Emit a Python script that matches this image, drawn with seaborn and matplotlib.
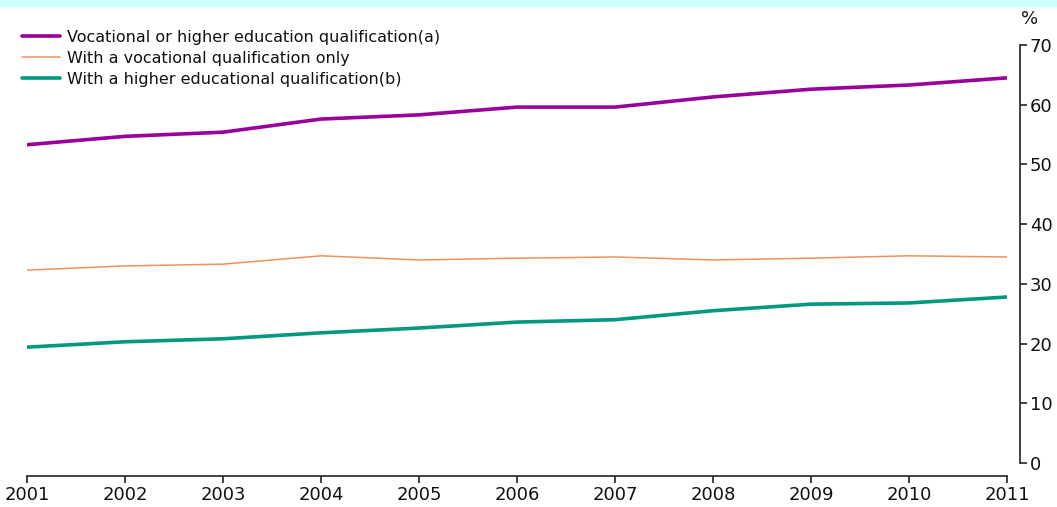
"""
plot.py - education qualification trend, 2001-2011
"""
import numpy as np
import pandas as pd
import matplotlib
matplotlib.use('Agg')
import matplotlib.pyplot as plt
import matplotlib.patches as mpatches
import seaborn as sns

# ── DATA ──────────────────────────────────────────────────────
YEARS = [2001, 2002, 2003, 2004, 2005, 2006, 2007, 2008, 2009, 2010, 2011]
SERIES = [
    "Vocational or higher education qualification(a)",
    "With a vocational qualification only",
    "With a higher educational qualification(b)",
]
voc_or_higher = [53.3, 54.7, 55.4, 57.6, 58.3, 59.6, 59.6, 61.3, 62.6, 63.3, 64.5]
voc_only = [32.3, 33.0, 33.3, 34.7, 34.0, 34.3, 34.5, 34.0, 34.3, 34.7, 34.5]
higher_only = [19.4, 20.3, 20.8, 21.8, 22.6, 23.6, 24.0, 25.5, 26.6, 26.8, 27.8]
Y_TICKS = [0, 10, 20, 30, 40, 50, 60, 70]

COLORS = ["#990099", "#F4905A", "#00997F"]
WIDTHS = [2.6, 1.1, 2.6]

df = pd.DataFrame({
    "Year": YEARS * 3,
    "Value": voc_or_higher + voc_only + higher_only,
    "Series": [SERIES[0]] * 11 + [SERIES[1]] * 11 + [SERIES[2]] * 11,
})

sns.set_style("white")
plt.rcParams['font.family'] = ['DejaVu Sans']

fig = plt.figure(figsize=(10.57, 5.07), dpi=100)
W, H = 1057, 507
ax = fig.add_axes([27 / W, (H - 463) / H, (1007 - 27) / W, (463 - 45) / H])

# cyan strip on top
fig.patches.append(mpatches.Rectangle((0, 1 - 6 / H), 1, 6 / H, transform=fig.transFigure,
                                      color="#CCFFFF", zorder=0))

sns.lineplot(data=df, x="Year", y="Value", hue="Series", palette=COLORS, ax=ax, legend=False)
for line, lw in zip(ax.get_lines(), WIDTHS):
    line.set_linewidth(lw)
    line.set_solid_capstyle('butt')

ax.set_xlim(2001, 2011)
ax.set_ylim(0, 70)
ax.set_xticks(YEARS)
ax.set_xticklabels([str(y) for y in YEARS])
ax.set_yticks(Y_TICKS)
ax.yaxis.tick_right()
ax.set_xlabel("")
ax.set_ylabel("")

for s in ["left", "top"]:
    ax.spines[s].set_visible(False)
ax.spines["bottom"].set_position(("outward", 9.5))
ax.spines["right"].set_position(("outward", 9.5))
for s in ["bottom", "right"]:
    ax.spines[s].set_color("#222222")
    ax.spines[s].set_linewidth(1.2)
ax.tick_params(axis="x", bottom=True, top=False)
ax.tick_params(axis="y", right=True, left=False, labelright=True, labelleft=False)
ax.tick_params(axis="both", direction="out", length=5, width=1.2, color="#222222",
               labelsize=13, labelcolor="#111111", pad=2)

fig.text(1030 / W, 1 - 19 / H, "%", fontsize=13, ha="center", va="center", color="#111111")

handles = [plt.Line2D([], [], color=c, lw=lw) for c, lw in zip(COLORS, WIDTHS)]
fig.legend(handles, SERIES, loc="upper left", bbox_to_anchor=(22 / W, 1 - 30 / H),
           frameon=False, fontsize=11.5, handlelength=2.4, handletextpad=0.4,
           labelspacing=0.37, borderaxespad=0, borderpad=0, labelcolor="#111111")

fig.savefig("out.png", dpi=100, facecolor="white")
